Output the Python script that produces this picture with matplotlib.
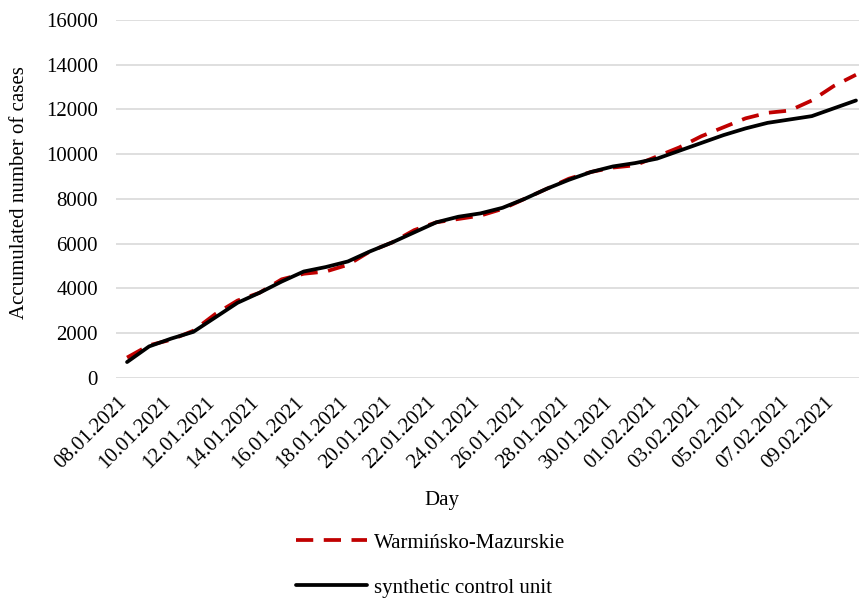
import numpy as np
import pandas as pd
import matplotlib
matplotlib.use("Agg")
import matplotlib.pyplot as plt
import matplotlib.transforms as mtransforms

# --- data ---
days = pd.date_range("2021-01-08", "2021-02-10", freq="D")
day_labels = [d.strftime("%d.%m.%Y") for d in days]

warminsko = [900, 1450, 1700, 2100, 2850, 3450, 3800, 4400, 4650, 4750,
             5050, 5650, 6050, 6600, 6950, 7100, 7250, 7550, 8000, 8450,
             8900, 9200, 9400, 9500, 9900, 10300, 10800, 11200, 11600, 11850,
             11950, 12400, 13050, 13550]
synthetic = [700, 1400, 1750, 2050, 2700, 3350, 3800, 4300, 4750, 4950,
             5200, 5650, 6050, 6500, 6950, 7200, 7350, 7600, 8000, 8450,
             8850, 9200, 9450, 9600, 9800, 10150, 10500, 10850, 11150, 11400,
             11550, 11700, 12050, 12400]

plt.rcParams["font.family"] = ["Liberation Serif", "DejaVu Serif"]
FS = 15

fig = plt.figure(figsize=(8.59, 5.99), dpi=100)
W, H = 859, 599
# plot area in pixels: left 116, right ~867 (cut off by the image edge), top 20, bottom 378
ax = fig.add_axes([116 / W, 1 - 377.7 / H, (867 - 116) / W, 357.7 / H])

x = np.arange(len(days))
ax.plot(x, warminsko, color="#C00000", lw=2.7, dashes=(4.6, 2.8),
        label="Warmińsko-Mazurskie", zorder=3)
ax.plot(x, synthetic, color="black", lw=2.7, label="synthetic control unit",
        solid_capstyle="round", zorder=4)

ax.set_xlim(-0.5, len(days) - 0.5)
ax.set_ylim(0, 16000)
ax.set_yticks(np.arange(0, 16001, 2000))
ax.grid(axis="y", color="#D9D9D9", lw=1.2)
ax.set_axisbelow(True)
for s in ax.spines.values():
    s.set_visible(False)
ax.tick_params(axis="y", length=0, pad=13, labelsize=FS)
ax.tick_params(axis="x", length=0, pad=16, labelsize=FS)

ax.set_xticks(x[::2])
ax.set_xticklabels(day_labels[::2], rotation=45, ha="right", va="center",
                   rotation_mode="anchor")
shift = mtransforms.ScaledTranslation(-3 / 100, 0, fig.dpi_scale_trans)
for lab in ax.get_xticklabels():
    lab.set_transform(lab.get_transform() + shift)

fig.text(20 / W, 1 - 193 / H, "Accumulated number of cases", rotation=90,
         ha="center", va="center", fontsize=FS)
fig.text(442 / W, 1 - 501 / H, "Day", ha="center", va="center", fontsize=FS)

fig.legend(loc="upper left", bbox_to_anchor=(296 / W, 1 - 533 / H),
           frameon=False, fontsize=FS, handlelength=3.4, handletextpad=0.35,
           labelspacing=1.22, borderpad=0, borderaxespad=0)

fig.savefig("out.png", dpi=100)
